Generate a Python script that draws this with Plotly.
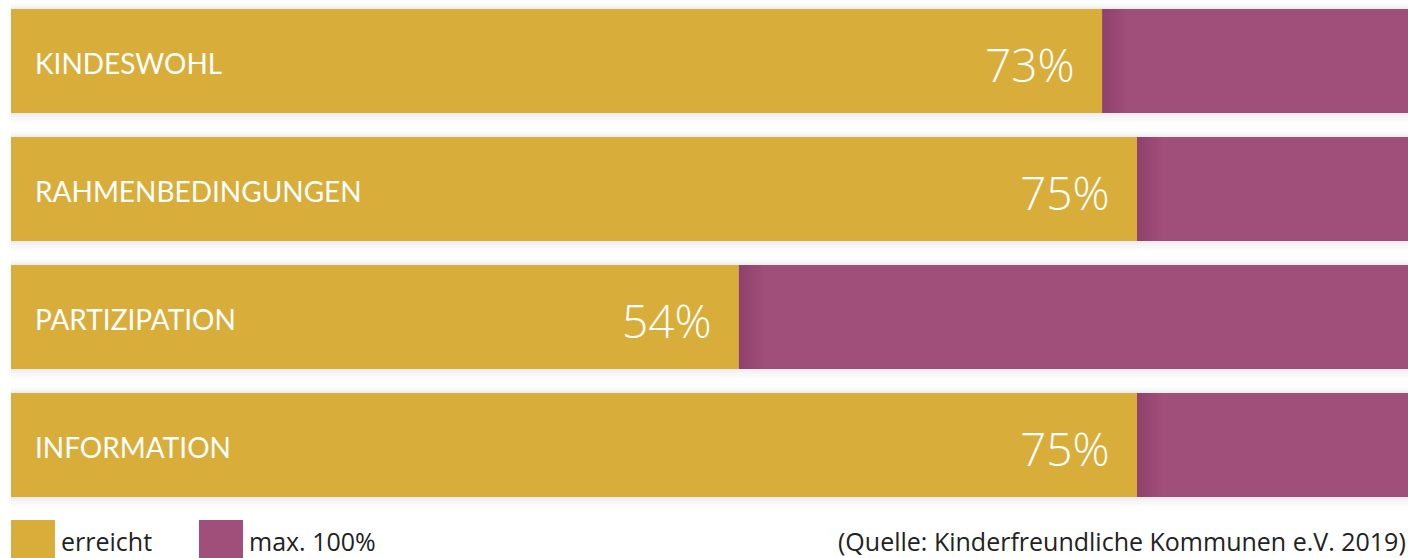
import plotly.graph_objects as go

categories = ["KINDESWOHL", "RAHMENBEDINGUNGEN", "PARTIZIPATION", "INFORMATION"]
percent_labels = ["73%", "75%", "54%", "75%"]
# visible length of the "erreicht" bar as share of the full bar width
achieved_len = [78.1, 80.6, 52.1, 80.6]
full_len = [100, 100, 100, 100]
legend_names = ["erreicht", "max. 100%"]
source_text = "(Quelle: Kinderfreundliche Kommunen e.V. 2019)"

YELLOW = "#D9AD3A"
PURPLE = "#A04E7A"

W, H = 1408, 558
L = 11
pitch = 128.0
c0 = 61.0
ypos = list(range(len(categories)))
y_top = -c0 / pitch
y_bot = (H - c0) / pitch
bar_w = 104 / pitch

def py(px):
    return (px - c0) / pitch

fig = go.Figure()
fig.add_trace(go.Bar(y=ypos, x=achieved_len, orientation="h", marker=dict(color=YELLOW, line_width=0),
                     width=bar_w, name=legend_names[0], showlegend=False))
fig.add_trace(go.Bar(y=ypos, x=[f - a for f, a in zip(full_len, achieved_len)], base=achieved_len,
                     orientation="h", marker=dict(color=PURPLE, line_width=0), width=bar_w,
                     name=legend_names[1], showlegend=False))

shapes = []
annotations = []
xu = 100 / (W - L)  # data units per pixel
for i, (cat, lab, a) in enumerate(zip(categories, percent_labels, achieved_len)):
    # soft drop shadow around the bars
    for k, op in [(10, 0.012), (7, 0.015), (4, 0.02), (2, 0.025)]:
        shapes.append(dict(type="rect", xref="x", yref="y", layer="below",
                           x0=-k * 0.5 * xu, x1=100 + k * xu,
                           y0=i - bar_w / 2 - k * 0.6 / pitch, y1=i + bar_w / 2 + k / pitch,
                           fillcolor=f"rgba(0,0,0,{op})", line_width=0))
    # dark gradient where the purple part starts
    n = 12
    for j in range(n):
        op = 0.16 * (1 - j / n)
        shapes.append(dict(type="rect", xref="x", yref="y", layer="above",
                           x0=a + j * 2 * xu, x1=a + (j + 1) * 2 * xu,
                           y0=i - bar_w / 2, y1=i + bar_w / 2,
                           fillcolor=f"rgba(60,10,40,{op:.3f})", line_width=0))
    annotations.append(dict(x=0, y=i, xref="x", yref="y", text=cat, showarrow=False,
                            xanchor="left", yanchor="middle", xshift=22, yshift=-2,
                            font=dict(family="Lato", size=28, color="white")))
    annotations.append(dict(x=a, y=i, xref="x", yref="y", text=lab, showarrow=False,
                            xanchor="right", yanchor="middle", xshift=-25, yshift=-3,
                            font=dict(family="Open Sans", size=46, color="white", weight=300)))

# legend
for px0, px1, col, name, tx in [(11, 55, YELLOW, legend_names[0], 59), (199, 243, PURPLE, legend_names[1], 247)]:
    shapes.append(dict(type="rect", xref="x", yref="y", layer="above",
                       x0=(px0 - L) * xu, x1=(px1 - L) * xu, y0=py(520), y1=py(560),
                       fillcolor=col, line_width=0))
    annotations.append(dict(x=(tx - L) * xu, y=py(541), xref="x", yref="y", text=name, showarrow=False,
                            xanchor="left", yanchor="middle",
                            font=dict(family="Open Sans", size=25, color="#222222")))
annotations.append(dict(x=(836 - L) * xu, y=py(541), xref="x", yref="y", text=source_text, showarrow=False,
                        xanchor="left", yanchor="middle",
                        font=dict(family="Open Sans", size=25, color="#222222")))

fig.update_layout(
    width=W, height=H, margin=dict(l=L, r=0, t=0, b=0),
    barmode="overlay", paper_bgcolor="white", plot_bgcolor="white",
    xaxis=dict(range=[0, 100], visible=False, fixedrange=True),
    yaxis=dict(range=[y_bot, y_top], visible=False, fixedrange=True),
    shapes=shapes, annotations=annotations, showlegend=False,
)
fig.write_html("out.html")
